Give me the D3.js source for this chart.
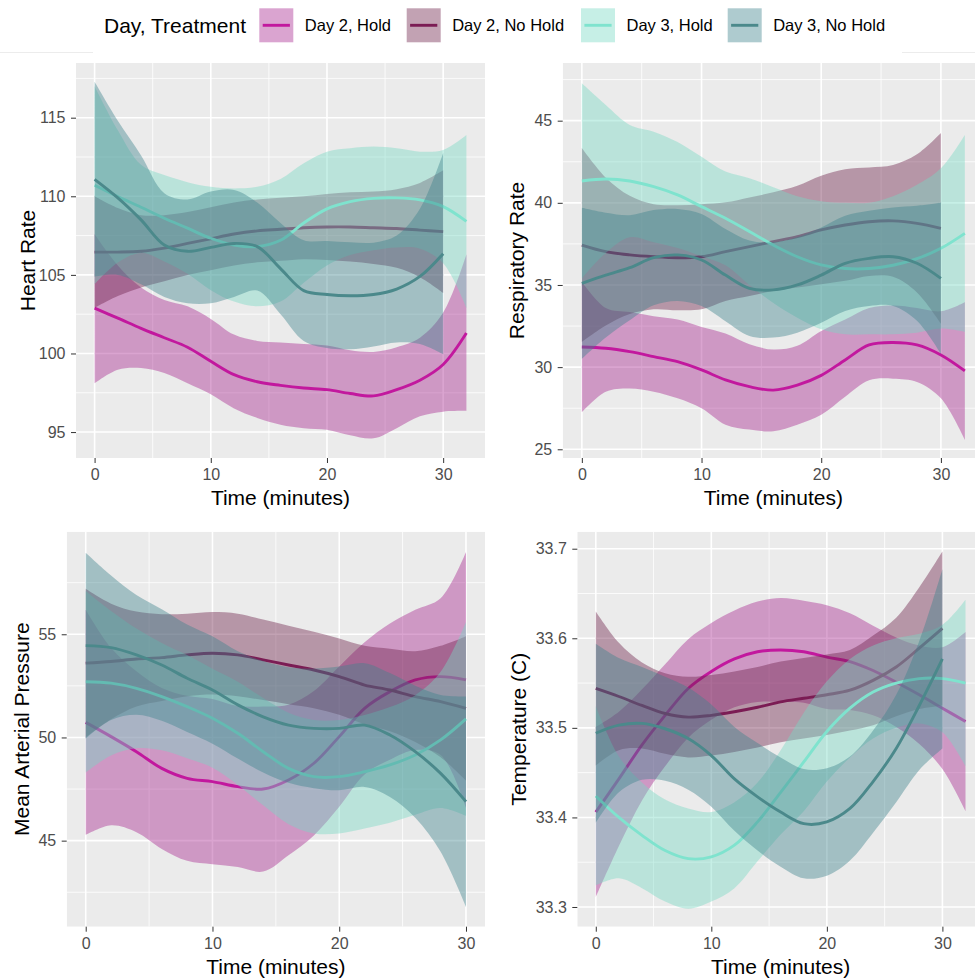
<!DOCTYPE html>
<html>
<head>
<meta charset="utf-8">
<script src="https://cdn.jsdelivr.net/npm/d3@7"></script>
<style>
  body { margin: 0; background: #fff; }
  svg text { font-family: "Liberation Sans", Arial, Helvetica, sans-serif; }
</style>
</head>
<body>
<div id="chart"></div>
<script>
// Add your JavaScript code here
const WIDTH = 975, HEIGHT = 979;

// groups (legend order = drawing order)
const groups = ["Day 2, Hold", "Day 2, No Hold", "Day 3, Hold", "Day 3, No Hold"];
const groupColors = ["#C2189E", "#7B1C54", "#7FE3CE", "#4B898B"];
const ribbonColors = ["#A8268F", "#6E224A", "#77D8C4", "#3F838D"];

// sample times (minutes)
const minutes32 = [0, 2, 4, 6, 8, 10, 12, 14, 16, 18, 20, 22, 24, 26, 28, 30, 32];
const minutes30 = [0, 2, 4, 6, 8, 10, 12, 14, 16, 18, 20, 22, 24, 26, 28, 30];

const xTicks = [0, 10, 20, 30];

// ---- Heart Rate ----
const hrTicks = [95, 100, 105, 110, 115];
const hr_d2h_fit = [102.88, 102.25, 101.6, 101.0, 100.4, 99.5, 98.65, 98.2, 97.97, 97.8, 97.7, 97.45, 97.3, 97.7, 98.3, 99.3, 101.3];
const hr_d2h_lo = [98.1, 98.96, 99.07, 98.75, 98.1, 97.4, 96.5, 95.9, 95.47, 95.25, 95.15, 94.8, 94.6, 95.25, 96.0, 96.3, 96.35];
const hr_d2h_hi = [107.6, 105.6, 104.2, 103.4, 103.0, 102.2, 101.2, 100.8, 100.7, 100.6, 100.5, 100.2, 100.1, 100.4, 101.0, 102.6, 106.3];
const hr_d2n_fit = [106.45, 106.45, 106.5, 106.7, 107.0, 107.3, 107.6, 107.8, 107.9, 108.0, 108.05, 108.05, 108.0, 107.95, 107.85, 107.75];
const hr_d2n_lo = [102.9, 103.65, 104.2, 104.6, 105.0, 105.3, 105.6, 105.8, 105.9, 106.0, 105.95, 105.85, 105.7, 105.45, 104.85, 103.85];
const hr_d2n_hi = [110.0, 109.25, 108.8, 108.8, 109.0, 109.3, 109.6, 109.8, 109.9, 110.0, 110.15, 110.25, 110.3, 110.45, 110.85, 111.65];
const hr_d3h_fit = [110.7, 109.98, 109.3, 108.6, 107.97, 107.33, 106.9, 106.8, 107.2, 108.3, 109.2, 109.66, 109.87, 109.9, 109.77, 109.34, 108.4];
const hr_d3h_lo = [104.4, 105.78, 106.4, 105.85, 105.07, 104.03, 103.3, 103.0, 103.3, 104.5, 105.6, 106.26, 106.57, 106.75, 106.67, 105.74, 102.9];
const hr_d3h_hi = [117.0, 114.2, 112.0, 111.35, 110.9, 110.6, 110.5, 110.6, 111.1, 112.1, 112.84, 113.05, 113.16, 113.05, 112.84, 112.95, 113.9];
const hr_d3n_fit = [111.08, 109.9, 108.5, 106.9, 106.5, 106.75, 107.0, 106.8, 105.4, 104.0, 103.75, 103.67, 103.75, 104.1, 104.9, 106.35];
const hr_d3n_lo = [104.88, 105.0, 104.4, 103.6, 103.2, 103.2, 103.6, 104.0, 102.5, 100.8, 100.35, 100.27, 100.45, 100.7, 100.6, 99.95];
const hr_d3n_hi = [117.28, 114.8, 112.6, 110.2, 109.8, 110.3, 110.4, 109.6, 108.3, 107.2, 107.15, 107.07, 107.05, 107.5, 109.2, 112.75];

// ---- Respiratory Rate ----
const rrTicks = [25, 30, 35, 40, 45];
const rr_d2h_fit = [31.23, 31.15, 30.94, 30.64, 30.33, 29.83, 29.22, 28.81, 28.6, 28.9, 29.5, 30.44, 31.35, 31.5, 31.35, 30.74, 29.77];
const rr_d2h_lo = [27.25, 28.5, 28.7, 28.5, 28.1, 27.5, 26.5, 26.2, 26.1, 26.5, 27.1, 28.2, 29.2, 29.3, 29.1, 28.1, 25.57];
const rr_d2h_hi = [35.2, 33.6, 33.35, 33.1, 32.9, 32.45, 32.05, 31.4, 31.07, 31.3, 32.2, 32.9, 33.6, 33.75, 33.6, 33.4, 33.95];
const rr_d2n_fit = [37.43, 37.03, 36.83, 36.72, 36.66, 36.72, 37.03, 37.33, 37.64, 37.94, 38.35, 38.65, 38.85, 38.9, 38.75, 38.45];
const rr_d2n_lo = [31.53, 32.53, 33.23, 33.52, 33.46, 33.52, 34.03, 34.33, 34.64, 34.84, 35.05, 35.25, 35.55, 35.5, 34.55, 32.65];
const rr_d2n_hi = [43.33, 41.53, 40.43, 39.92, 39.86, 39.92, 40.03, 40.33, 40.64, 41.04, 41.65, 42.05, 42.15, 42.3, 42.95, 44.25];
const rr_d3h_fit = [41.33, 41.45, 41.33, 40.98, 40.48, 39.77, 39.06, 38.25, 37.43, 36.72, 36.22, 36.0, 36.0, 36.2, 36.6, 37.23, 38.14];
const rr_d3h_lo = [35.4, 36.95, 37.9, 37.6, 37.25, 36.75, 36.2, 35.0, 33.9, 33.0, 32.3, 32.0, 32.0, 32.0, 32.1, 32.35, 32.15];
const rr_d3h_hi = [47.27, 45.95, 44.74, 44.33, 43.7, 42.8, 41.9, 41.5, 40.95, 40.4, 40.1, 40.0, 40.0, 40.4, 41.1, 42.1, 44.13];
const rr_d3n_fit = [35.1, 35.6, 36.05, 36.66, 36.83, 36.52, 35.6, 34.8, 34.7, 35.0, 35.6, 36.32, 36.62, 36.72, 36.32, 35.4];
const rr_d3n_lo = [30.5, 31.8, 32.85, 33.76, 34.03, 33.72, 32.8, 31.9, 31.8, 32.1, 32.7, 33.42, 33.72, 33.72, 32.82, 30.8];
const rr_d3n_hi = [39.7, 39.4, 39.25, 39.56, 39.63, 39.32, 38.4, 37.7, 37.6, 37.9, 38.5, 39.22, 39.52, 39.72, 39.82, 40.0];

// ---- Mean Arterial Pressure ----
const mapTicks = [45, 50, 55];
const map_d2h_fit = [50.73, 50.04, 49.31, 48.5, 48.02, 47.86, 47.62, 47.5, 47.94, 48.75, 50.04, 51.41, 52.22, 52.79, 52.95, 52.79];
const map_d2h_lo = [45.27, 45.74, 45.41, 44.6, 44.02, 43.86, 43.72, 43.5, 44.29, 45.25, 46.64, 48.21, 48.92, 49.39, 49.15, 46.59];
const map_d2h_hi = [56.19, 54.34, 53.21, 52.4, 52.02, 51.86, 51.52, 51.5, 51.59, 52.25, 53.44, 54.61, 55.52, 56.19, 56.75, 58.99];
const map_d2n_fit = [53.6, 53.68, 53.8, 53.87, 54.0, 54.08, 54.0, 53.76, 53.51, 53.27, 52.95, 52.54, 52.3, 51.98, 51.74, 51.41];
const map_d2n_lo = [50.0, 50.88, 51.5, 51.77, 52.0, 52.08, 52.0, 51.81, 51.61, 51.42, 51.1, 50.64, 50.3, 49.78, 49.04, 47.91];
const map_d2n_hi = [57.2, 56.48, 56.1, 55.97, 56.0, 56.08, 56.0, 55.71, 55.41, 55.12, 54.8, 54.44, 54.3, 54.18, 54.44, 54.91];
const map_d3h_fit = [52.7, 52.63, 52.38, 51.98, 51.49, 50.93, 50.2, 49.31, 48.5, 48.1, 48.1, 48.34, 48.67, 49.15, 49.88, 50.9];
const map_d3h_lo = [48.3, 49.13, 49.48, 49.38, 48.99, 48.53, 47.7, 46.71, 45.8, 45.35, 45.35, 45.59, 45.87, 46.25, 46.58, 46.2];
const map_d3h_hi = [57.1, 56.13, 55.28, 54.58, 53.99, 53.33, 52.7, 51.91, 51.2, 50.85, 50.85, 51.09, 51.47, 52.05, 53.18, 55.6];
const map_d3n_fit = [54.45, 54.35, 54.0, 53.51, 52.87, 52.3, 51.58, 51.0, 50.6, 50.44, 50.44, 50.6, 50.12, 49.31, 48.26, 46.89];
const map_d3n_lo = [49.95, 50.85, 51.1, 50.81, 50.27, 49.7, 48.98, 48.3, 47.8, 47.54, 47.44, 47.6, 47.12, 46.11, 44.46, 41.79];
const map_d3n_hi = [58.95, 57.85, 56.9, 56.21, 55.47, 54.9, 54.18, 53.7, 53.4, 53.34, 53.44, 53.6, 53.12, 52.51, 52.06, 51.99];

// ---- Temperature ----
const tempTicks = [33.3, 33.4, 33.5, 33.6, 33.7];
const tp_d2h_fit = [33.406, 33.443, 33.481, 33.514, 33.544, 33.563, 33.577, 33.585, 33.587, 33.585, 33.579, 33.574, 33.564, 33.551, 33.537, 33.522, 33.507];
const tp_d2h_lo = [33.311, 33.368, 33.419, 33.457, 33.489, 33.509, 33.523, 33.529, 33.529, 33.528, 33.521, 33.52, 33.514, 33.501, 33.482, 33.454, 33.407];
const tp_d2h_hi = [33.501, 33.518, 33.543, 33.571, 33.599, 33.617, 33.631, 33.641, 33.645, 33.642, 33.637, 33.628, 33.614, 33.601, 33.592, 33.59, 33.607];
const tp_d2n_fit = [33.544, 33.535, 33.525, 33.516, 33.512, 33.514, 33.518, 33.523, 33.529, 33.533, 33.537, 33.542, 33.553, 33.568, 33.589, 33.611];
const tp_d2n_lo = [33.458, 33.475, 33.477, 33.471, 33.467, 33.469, 33.473, 33.478, 33.484, 33.488, 33.492, 33.497, 33.503, 33.513, 33.521, 33.525];
const tp_d2n_hi = [33.63, 33.595, 33.573, 33.561, 33.557, 33.559, 33.563, 33.568, 33.574, 33.578, 33.582, 33.587, 33.603, 33.623, 33.657, 33.697];
const tp_d3h_fit = [33.424, 33.4, 33.38, 33.363, 33.354, 33.356, 33.369, 33.395, 33.428, 33.462, 33.496, 33.522, 33.54, 33.55, 33.555, 33.555, 33.55];
const tp_d3h_lo = [33.324, 33.332, 33.321, 33.306, 33.298, 33.306, 33.321, 33.351, 33.381, 33.407, 33.44, 33.467, 33.488, 33.5, 33.505, 33.495, 33.457];
const tp_d3h_hi = [33.524, 33.468, 33.439, 33.42, 33.41, 33.406, 33.417, 33.439, 33.475, 33.517, 33.552, 33.577, 33.592, 33.6, 33.605, 33.615, 33.643];
const tp_d3n_fit = [33.494, 33.503, 33.505, 33.499, 33.488, 33.469, 33.443, 33.423, 33.406, 33.393, 33.395, 33.41, 33.44, 33.477, 33.525, 33.577];
const tp_d3n_lo = [33.394, 33.428, 33.442, 33.441, 33.431, 33.412, 33.385, 33.363, 33.345, 33.332, 33.335, 33.352, 33.383, 33.417, 33.453, 33.477];
const tp_d3n_hi = [33.594, 33.578, 33.568, 33.557, 33.545, 33.526, 33.501, 33.483, 33.467, 33.454, 33.455, 33.468, 33.497, 33.537, 33.597, 33.677];

function series(t, fit, lo, hi) {
    return t.map(function(d, i) { return {t: d, fit: fit[i], lo: lo[i], hi: hi[i]}; });
}

// panel layout (pixel boxes) + data
const panels = [
    {title: "Heart Rate", left: 76, right: 485, top: 63, bottom: 458,
     xDomain: [-1.6, 33.6], yDomain: [93.35, 118.48], ticks: hrTicks, fmt: d3.format("d"),
     titleX: 35, data: [
        series(minutes32, hr_d2h_fit, hr_d2h_lo, hr_d2h_hi),
        series(minutes30, hr_d2n_fit, hr_d2n_lo, hr_d2n_hi),
        series(minutes32, hr_d3h_fit, hr_d3h_lo, hr_d3h_hi),
        series(minutes30, hr_d3n_fit, hr_d3n_lo, hr_d3n_hi)]},
    {title: "Respiratory Rate", left: 562.7, right: 984, top: 63, bottom: 458,
     xDomain: [-1.6, 33.6], yDomain: [24.47, 48.51], ticks: rrTicks, fmt: d3.format("d"),
     titleX: 524, data: [
        series(minutes32, rr_d2h_fit, rr_d2h_lo, rr_d2h_hi),
        series(minutes30, rr_d2n_fit, rr_d2n_lo, rr_d2n_hi),
        series(minutes32, rr_d3h_fit, rr_d3h_lo, rr_d3h_hi),
        series(minutes30, rr_d3n_fit, rr_d3n_lo, rr_d3n_hi)]},
    {title: "Mean Arterial Pressure", left: 66.7, right: 485, top: 531.7, bottom: 926.7,
     xDomain: [-1.5, 31.5], yDomain: [40.83, 59.97], ticks: mapTicks, fmt: d3.format("d"),
     titleX: 29, data: [
        series(minutes30, map_d2h_fit, map_d2h_lo, map_d2h_hi),
        series(minutes30, map_d2n_fit, map_d2n_lo, map_d2n_hi),
        series(minutes30, map_d3h_fit, map_d3h_lo, map_d3h_hi),
        series(minutes30, map_d3n_fit, map_d3n_lo, map_d3n_hi)]},
    {title: "Temperature (C)", left: 577.3, right: 984, top: 531.7, bottom: 926.7,
     xDomain: [-1.6, 33.6], yDomain: [33.278, 33.719], ticks: tempTicks, fmt: d3.format(".1f"),
     titleX: 526, data: [
        series(minutes32, tp_d2h_fit, tp_d2h_lo, tp_d2h_hi),
        series(minutes30, tp_d2n_fit, tp_d2n_lo, tp_d2n_hi),
        series(minutes32, tp_d3h_fit, tp_d3h_lo, tp_d3h_hi),
        series(minutes30, tp_d3n_fit, tp_d3n_lo, tp_d3n_hi)]}
];

const svg = d3.select("#chart")
    .append("svg")
    .attr("width", WIDTH)
    .attr("height", HEIGHT)
    .style("display", "block");

svg.append("rect").attr("width", WIDTH).attr("height", HEIGHT).attr("fill", "#fff");

// faint rule under the legend
svg.append("line").attr("x1", 0).attr("x2", 93).attr("y1", 52.5).attr("y2", 52.5)
    .attr("stroke", "#ececec").attr("stroke-width", 1);
svg.append("line").attr("x1", 902).attr("x2", WIDTH).attr("y1", 52.5).attr("y2", 52.5)
    .attr("stroke", "#ececec").attr("stroke-width", 1);

panels.forEach(function(p, pi) {
    let x = d3.scaleLinear().domain(p.xDomain).range([p.left, p.right]);
    let y = d3.scaleLinear().domain(p.yDomain).range([p.bottom, p.top]);

    let clipId = "clip" + pi;
    svg.append("clipPath").attr("id", clipId)
        .append("rect")
        .attr("x", p.left).attr("y", p.top)
        .attr("width", p.right - p.left).attr("height", p.bottom - p.top);

    let g = svg.append("g").attr("clip-path", `url(#${clipId})`);

    // panel background
    g.append("rect")
        .attr("x", p.left).attr("y", p.top)
        .attr("width", p.right - p.left).attr("height", p.bottom - p.top)
        .attr("fill", "#EBEBEB");

    // minor grid
    let step = p.ticks[1] - p.ticks[0];
    let yMinor = [p.ticks[0] - step / 2].concat(p.ticks.map(function(d) { return d + step / 2; }));
    let xMinor = [-5, 5, 15, 25, 35];
    g.selectAll(".ymin").data(yMinor).enter().append("line")
        .attr("x1", p.left).attr("x2", p.right)
        .attr("y1", function(d) { return y(d); }).attr("y2", function(d) { return y(d); })
        .attr("stroke", "#fff").attr("stroke-width", 0.8);
    g.selectAll(".xmin").data(xMinor).enter().append("line")
        .attr("y1", p.top).attr("y2", p.bottom)
        .attr("x1", function(d) { return x(d); }).attr("x2", function(d) { return x(d); })
        .attr("stroke", "#fff").attr("stroke-width", 0.8);

    // major grid
    g.selectAll(".ymaj").data(p.ticks).enter().append("line")
        .attr("x1", p.left).attr("x2", p.right)
        .attr("y1", function(d) { return y(d); }).attr("y2", function(d) { return y(d); })
        .attr("stroke", "#fff").attr("stroke-width", 1.6);
    g.selectAll(".xmaj").data(xTicks).enter().append("line")
        .attr("y1", p.top).attr("y2", p.bottom)
        .attr("x1", function(d) { return x(d); }).attr("x2", function(d) { return x(d); })
        .attr("stroke", "#fff").attr("stroke-width", 1.6);

    let area = d3.area()
        .x(function(d) { return x(d.t); })
        .y0(function(d) { return y(d.lo); })
        .y1(function(d) { return y(d.hi); })
        .curve(d3.curveCatmullRom);
    let line = d3.line()
        .x(function(d) { return x(d.t); })
        .y(function(d) { return y(d.fit); })
        .curve(d3.curveCatmullRom);

    // ribbon then line, group by group (like geom_smooth)
    p.data.forEach(function(s, si) {
        g.append("path").datum(s)
            .attr("d", area)
            .attr("fill", ribbonColors[si])
            .attr("fill-opacity", 0.42);
        g.append("path").datum(s)
            .attr("d", line)
            .attr("fill", "none")
            .attr("stroke", groupColors[si])
            .attr("stroke-width", 2.9);
    });

    // axes
    svg.append("g")
        .attr("transform", `translate(0, ${p.bottom})`)
        .call(d3.axisBottom(x).tickValues(xTicks).tickSize(5).tickPadding(5.5).tickFormat(d3.format("d")))
        .call(function(a) {
            a.select(".domain").remove();
            a.selectAll(".tick line").attr("stroke", "#333").attr("stroke-width", 1);
            a.selectAll(".tick text").attr("fill", "#4D4D4D").style("font-size", "16px");
        });

    svg.append("g")
        .attr("transform", `translate(${p.left}, 0)`)
        .call(d3.axisLeft(y).tickValues(p.ticks).tickSize(5).tickPadding(5.5).tickFormat(p.fmt))
        .call(function(a) {
            a.select(".domain").remove();
            a.selectAll(".tick line").attr("stroke", "#333").attr("stroke-width", 1);
            a.selectAll(".tick text").attr("fill", "#4D4D4D").style("font-size", "16px");
        });

    // axis titles
    svg.append("text")
        .attr("x", (p.left + p.right) / 2)
        .attr("y", p.bottom + 47)
        .style("text-anchor", "middle")
        .style("font-size", "21px")
        .text("Time (minutes)");

    svg.append("text")
        .attr("transform", `translate(${p.titleX}, ${(p.top + p.bottom) / 2}) rotate(-90)`)
        .style("text-anchor", "middle")
        .style("font-size", "21px")
        .text(p.title);
});

// legend
let legend = svg.append("g");
legend.append("text")
    .attr("x", 104).attr("y", 32.5)
    .style("font-size", "21px")
    .text("Day, Treatment");

const legendX = [259.3, 406.7, 581, 727.7];
groups.forEach(function(name, i) {
    let lx = legendX[i];
    legend.append("rect")
        .attr("x", lx).attr("y", 8.3)
        .attr("width", 34).attr("height", 34)
        .attr("fill", ribbonColors[i]).attr("fill-opacity", 0.42);
    legend.append("line")
        .attr("x1", lx + 3.4).attr("x2", lx + 30.6)
        .attr("y1", 25.3).attr("y2", 25.3)
        .attr("stroke", groupColors[i]).attr("stroke-width", 2.9);
    legend.append("text")
        .attr("x", lx + 45.5).attr("y", 31)
        .style("font-size", "16.5px")
        .text(name);
});
</script>
</body>
</html>
